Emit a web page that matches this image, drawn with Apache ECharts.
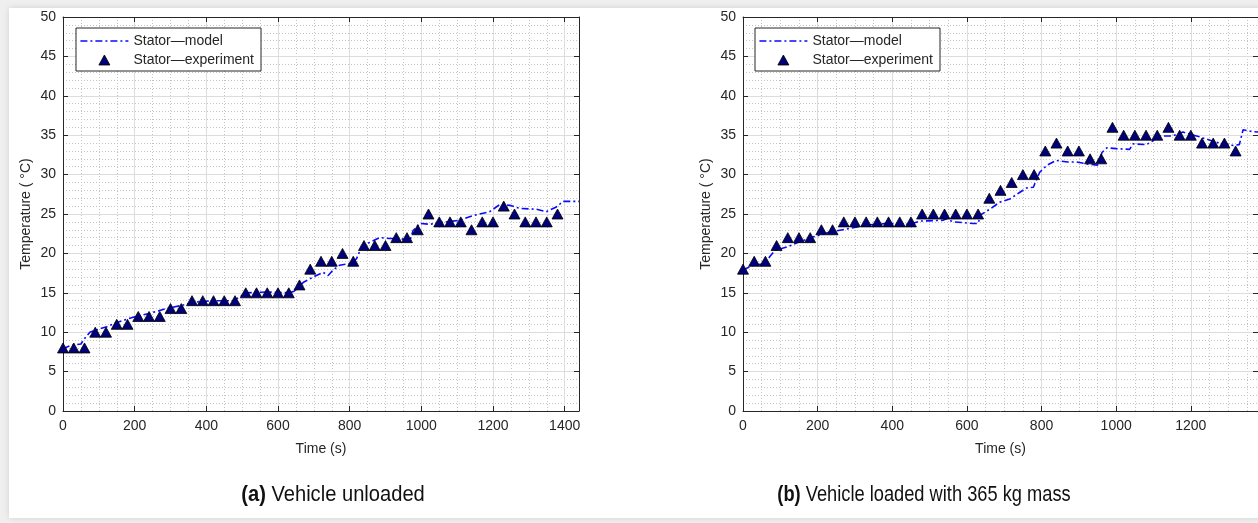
<!DOCTYPE html>
<html>
<head>
<meta charset="utf-8">
<script src="https://cdn.jsdelivr.net/npm/echarts@6/dist/echarts.min.js"></script>
<style>
html,body{margin:0;padding:0;background:#efefef;}
#chart{width:1258px;height:523px;}
</style>
</head>
<body>
<div id="chart"></div>
<script>
// ---- data ----
var seriesNames = ['Stator\u2014model', 'Stator\u2014experiment'];
var captions = ['Vehicle unloaded', 'Vehicle loaded with 365 kg mass'];
var captionTags = ['(a)', '(b)'];

var leftExpTime = [0,30,60,90,120,150,180,210,240,270,300,330,360,390,420,450,480,510,540,570,600,630,660,690,720,750,780,810,840,870,900,930,960,990,1020,1050,1080,1110,1140,1170,1200,1230,1260,1290,1320,1350,1380];
var leftExpTemp = [8,8,8,10,10,11,11,12,12,12,13,13,14,14,14,14,14,15,15,15,15,15,16,18,19,19,20,19,21,21,21,22,22,23,25,24,24,24,23,24,24,26,25,24,24,24,25];

var leftModelTime = [0,20,50,62,75,100,122,155,196,243,289,331,364,420,475,494,512,570,633,645,670,698,726,740,754,772,800,819,833,856,884,912,940,968,977,996,1024,1052,1107,1144,1191,1219,1247,1275,1321,1349,1377,1396,1440];
var leftModelTemp = [7.9,8.3,8.5,9.3,10.0,10.4,10.7,11.3,11.9,12.4,13.0,13.4,13.8,14.0,14.0,14.5,15.0,15.1,15.0,15.2,16.3,17.0,17.6,17.2,17.9,18.5,18.7,19.3,20.8,21.4,22.0,21.9,21.9,21.6,22.9,23.8,23.7,23.9,24.2,24.8,25.3,26.2,26.1,25.7,25.6,25.3,25.9,26.6,26.6];

var rightExpTime = [0,30,60,90,120,150,180,210,240,270,300,330,360,390,420,450,480,510,540,570,600,630,660,690,720,750,780,810,840,870,900,930,960,990,1020,1050,1080,1110,1140,1170,1200,1230,1260,1290,1320];
var rightExpTemp = [18,19,19,21,22,22,22,23,23,24,24,24,24,24,24,24,25,25,25,25,25,25,27,28,29,30,30,33,34,33,33,32,32,36,35,35,35,35,36,35,35,34,34,34,33];

var rightModelTime = [0,28,59,72,86,117,153,189,233,278,331,385,447,474,536,545,563,617,630,637,661,688,715,740,760,778,795,815,839,870,893,928,950,962,975,1000,1036,1045,1081,1099,1108,1150,1179,1200,1223,1268,1313,1330,1340,1360,1380];
var rightModelTemp = [17.9,18.5,18.7,19.6,20.4,20.8,21.5,22.1,22.7,23.1,23.6,23.8,23.7,24.1,24.2,24.4,24.0,23.8,23.8,24.9,25.6,26.5,26.9,27.7,28.3,28.4,30.3,31.2,31.8,31.6,31.6,31.3,31.2,32.8,33.4,33.3,33.2,33.9,33.8,34.3,34.9,34.9,35.4,35.1,34.8,34.1,33.7,33.8,35.7,35.5,35.4];

var xTickStep = 200, xMinorStep = 50;
var xMaxes = [1440, 1380];
var yTickStep = 5, yMinorStep = 1, yMax = 50;

function zip(a, b) { return a.map(function (v, i) { return [v, b[i]]; }); }

// ---- styles ----
var FONT = 'Liberation Sans, Arial, Helvetica, sans-serif';
var AX = '#262626';
var MAJOR = '#dddddd';
var MINOR = '#c4c4c4';
var LINEBLUE = '#0a0aff';
var NAVY = '#00007a';

var grids = [
  {left: 63, top: 17, width: 516, height: 394},
  {left: 743, top: 17, width: 515, height: 394}
];

function plain(v) { return String(v); }

var xAxes = [], yAxes = [];
grids.forEach(function (g, gi) {
  var xMax = xMaxes[gi];
  xAxes.push({
    gridIndex: gi, type: 'value', position: 'bottom', min: 0, max: xMax, interval: xTickStep,
    name: 'Time (s)', nameLocation: 'middle', nameGap: 31,
    nameTextStyle: {fontFamily: FONT, fontSize: 14, color: AX},
    axisLine: {show: true, onZero: false, lineStyle: {color: AX, width: 1}},
    axisTick: {show: true, inside: true, length: 5, lineStyle: {color: AX}},
    axisLabel: {show: true, margin: 8, fontFamily: FONT, fontSize: 14, color: AX, showMaxLabel: false, formatter: plain},
    splitLine: {show: true, lineStyle: {color: MAJOR, width: 1}},
    z: 3
  });
  xAxes.push({
    gridIndex: gi, type: 'value', position: 'top', min: 0, max: xMax, interval: xTickStep,
    axisLine: {show: true, onZero: false, lineStyle: {color: AX, width: 1}},
    axisTick: {show: true, inside: true, length: 5, lineStyle: {color: AX}},
    axisLabel: {show: false}, splitLine: {show: false}, z: 3
  });
  xAxes.push({
    gridIndex: gi, type: 'value', position: 'bottom', min: 0, max: xMax, interval: xMinorStep,
    axisLine: {show: false}, axisTick: {show: false}, axisLabel: {show: false},
    splitLine: {show: true, lineStyle: {color: MINOR, width: 1, type: [1, 2]}}, z: 1
  });

  yAxes.push({
    gridIndex: gi, type: 'value', position: 'left', min: 0, max: yMax, interval: yTickStep,
    name: 'Temperature ( \u00B0C)', nameLocation: 'middle', nameGap: 30,
    nameTextStyle: {fontFamily: FONT, fontSize: 14, color: AX},
    axisLine: {show: true, onZero: false, lineStyle: {color: AX, width: 1}},
    axisTick: {show: true, inside: true, length: 5, lineStyle: {color: AX}},
    axisLabel: {show: true, margin: 7, fontFamily: FONT, fontSize: 14, color: AX, formatter: plain},
    splitLine: {show: true, lineStyle: {color: MAJOR, width: 1}},
    z: 3
  });
  yAxes.push({
    gridIndex: gi, type: 'value', position: 'right', min: 0, max: yMax, interval: yTickStep,
    axisLine: {show: true, onZero: false, lineStyle: {color: AX, width: 1}},
    axisTick: {show: true, inside: true, length: 5, lineStyle: {color: AX}},
    axisLabel: {show: false}, splitLine: {show: false}, z: 3
  });
  yAxes.push({
    gridIndex: gi, type: 'value', position: 'left', min: 0, max: yMax, interval: yMinorStep,
    axisLine: {show: false}, axisTick: {show: false}, axisLabel: {show: false},
    splitLine: {show: true, lineStyle: {color: MINOR, width: 1, type: [1, 2]}}, z: 1
  });
});

function modelSeries(gi, data) {
  return {
    name: seriesNames[0], type: 'line', xAxisIndex: gi * 3, yAxisIndex: gi * 3,
    data: data, symbol: 'none', showSymbol: false, smooth: false, silent: true,
    lineStyle: {color: LINEBLUE, width: 1.6, type: [7, 3, 2, 3]},
    itemStyle: {color: LINEBLUE}, z: 4, animation: false
  };
}
function expSeries(gi, data) {
  return {
    name: seriesNames[1], type: 'scatter', xAxisIndex: gi * 3, yAxisIndex: gi * 3,
    data: data, symbol: 'triangle', symbolSize: [11, 10], silent: true,
    itemStyle: {color: NAVY, borderColor: '#000', borderWidth: 0.8, opacity: 1},
    z: 5, animation: false
  };
}

// legend icon shapes (legend samples only)
var dashDotIcon = 'path://M0,0h7v1.6h-7z M10,0h2v1.6h-2z M15,0h7v1.6h-7z M25,0h2v1.6h-2z M30,0h7v1.6h-7z M40,0h2v1.6h-2z M45,0h3v1.6h-3z';
var triIcon = 'path://M0,10L0.01,10 M18.5,10L24,0L29.5,10Z M47.99,0L48,0';

function legendAt(left) {
  return {
    data: [
      {name: seriesNames[0], icon: dashDotIcon, itemStyle: {color: LINEBLUE, borderWidth: 0}},
      {name: seriesNames[1], icon: triIcon, itemStyle: {color: NAVY, borderColor: '#000', borderWidth: 0.8}}
    ],
    orient: 'vertical', left: left, top: 28,
    backgroundColor: '#fff', borderColor: AX, borderWidth: 1,
    padding: [6, 7, 4, 4], itemGap: 5, itemWidth: 48, itemHeight: 11,
    selectedMode: false,
    textStyle: {fontFamily: FONT, fontSize: 14, color: AX},
    z: 10
  };
}

var captionCenters = [333, 924];
var captionScale = [0.915, 0.83];
var graphics = [{
  type: 'rect', z: -10, silent: true,
  shape: {x: 9, y: 8, width: 1270, height: 510},
  style: {fill: '#ffffff', shadowBlur: 6, shadowColor: 'rgba(0,0,0,0.12)'}
}];
captionCenters.forEach(function (cx, i) {
  graphics.push({
    type: 'text', x: cx, y: 495, scaleX: captionScale[i], silent: true, z: 10,
    style: {
      text: '{b|' + captionTags[i] + '} ' + captions[i],
      align: 'center', verticalAlign: 'middle',
      fontFamily: FONT, fontSize: 22, fill: '#111',
      rich: {b: {fontWeight: 'bold', fontSize: 22, fontFamily: FONT, fill: '#111'}}
    }
  });
});

var chart = echarts.init(document.getElementById('chart'), null, {renderer: 'canvas'});
chart.setOption({
  backgroundColor: '#efefef',
  animation: false,
  grid: grids.map(function (g) { return Object.assign({containLabel: false, outerBoundsMode: 'none'}, g); }),
  xAxis: xAxes,
  yAxis: yAxes,
  legend: [legendAt(76), legendAt(755)],
  graphic: graphics,
  series: [
    modelSeries(0, zip(leftModelTime, leftModelTemp)),
    expSeries(0, zip(leftExpTime, leftExpTemp)),
    modelSeries(1, zip(rightModelTime, rightModelTemp)),
    expSeries(1, zip(rightExpTime, rightExpTemp))
  ]
});
</script>
</body>
</html>
